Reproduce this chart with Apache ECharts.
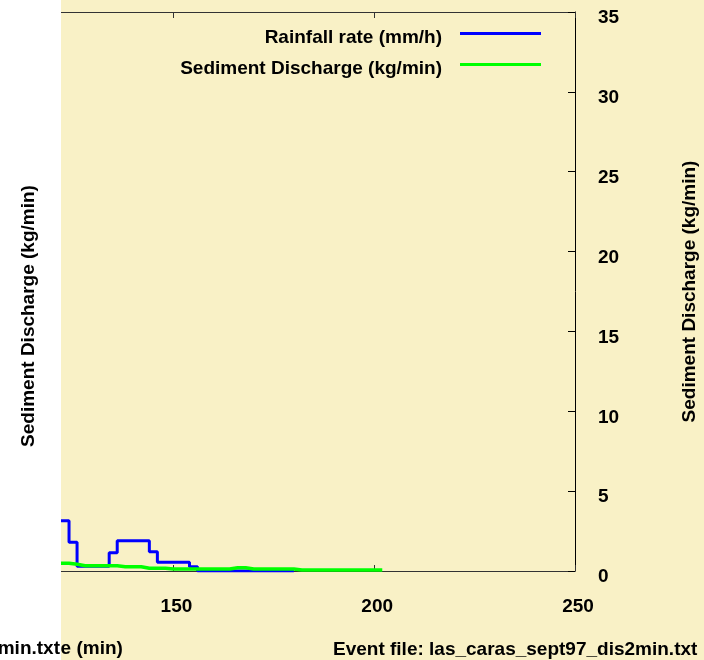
<!DOCTYPE html>
<html>
<head>
<meta charset="utf-8">
<script src="https://cdn.jsdelivr.net/npm/echarts@6/dist/echarts.min.js"></script>
<style>
html,body{margin:0;padding:0;background:#F9F1C6;}
#chart{width:704px;height:660px;}
</style>
</head>
<body>
<div id="chart"></div>
<script>
// ---- data (time in minutes) ----
const rainTime  = [120, 122, 124, 126, 128, 130, 132, 134, 136, 138, 140, 142, 144, 146, 148, 150, 152, 154, 156, 158, 160, 162, 164, 166, 168, 170, 172, 174, 176, 178, 180];
const rainRate  = [3.15, 3.15, 1.8, 0.3, 0.3, 0.3, 0.3, 1.15, 1.9, 1.9, 1.9, 1.9, 1.2, 0.55, 0.55, 0.55, 0.55, 0.27, 0, 0, 0, 0, 0, 0, 0, 0, 0, 0, 0, 0, 0];
const sedTime   = [120, 122, 124, 126, 128, 130, 132, 134, 136, 138, 140, 142, 144, 146, 148, 150, 152, 154, 156, 158, 160, 162, 164, 166, 168, 170, 172, 174, 176, 178, 180, 182, 184, 186, 188, 190, 192, 194, 196, 198, 200, 202];
const sedValue  = [0.48, 0.48, 0.42, 0.33, 0.33, 0.33, 0.33, 0.33, 0.27, 0.27, 0.27, 0.17, 0.17, 0.17, 0.12, 0.12, 0.12, 0.12, 0.12, 0.12, 0.12, 0.12, 0.2, 0.2, 0.12, 0.12, 0.12, 0.12, 0.12, 0.12, 0.06, 0.06, 0.06, 0.06, 0.06, 0.06, 0.06, 0.06, 0.06, 0.06, 0.06, 0.06];
const xRange = [122, 250];          // visible part of the time axis
const xTicks = [150, 200, 250];
const yTicks = [0, 5, 10, 15, 20, 25, 30, 35];
const seriesNames = ['Rainfall rate (mm/h)', 'Sediment Discharge (kg/min)'];
const yName = 'Sediment Discharge (kg/min)';
const xName = 'Time (min)';
const eventText = 'Event file: las_caras_sept97_dis2min.txt';
const sideText = 'min.txt';

const FONT = '"Liberation Sans", Arial, sans-serif';
const chart = echarts.init(document.getElementById('chart'), null, {renderer: 'canvas'});

const zip = (a, b) => a.map((v, i) => [v, b[i]]);
const boldTxt = {fontFamily: FONT, fontSize: 19, fontWeight: 'bold', color: '#000'};

chart.setOption({
  backgroundColor: '#F9F1C6',
  animation: false,
  textStyle: {fontFamily: FONT},
  title: {
    text: eventText,
    left: 333, top: 640, padding: 0,
    textStyle: boldTxt
  },
  legend: {
    orient: 'vertical',
    right: 163, top: 28,
    align: 'right',
    padding: 0,
    itemGap: 12,
    itemWidth: 81, itemHeight: 3,
    icon: 'rect',
    data: seriesNames,
    formatter: '{t|{name}}',
    textStyle: Object.assign({}, boldTxt, {
      padding: [0, 13, 0, 0],
      rich: {t: Object.assign({}, boldTxt, {padding: [8, 0, 0, 0]})}
    })
  },
  grid: {left: 61, right: 129, top: 12, bottom: 89, containLabel: false, outerBoundsMode: 'none'},
  xAxis: [{
    type: 'value', position: 'bottom',
    min: xRange[0], max: xRange[1],
    axisLine: {show: true, lineStyle: {color: '#333', width: 1}},
    axisTick: {show: true, inside: true, length: 6, customValues: xTicks, lineStyle: {color: '#333'}},
    axisLabel: {
      customValues: xTicks, margin: 22,
      formatter: '{t|{value}}',
      rich: {t: Object.assign({}, boldTxt, {padding: [4, 0, 0, 6]})}
    },
    splitLine: {show: false}
  }, {
    type: 'value', position: 'top',
    min: xRange[0], max: xRange[1],
    axisLine: {show: true, lineStyle: {color: '#333', width: 1}},
    axisTick: {show: true, inside: true, length: 6, customValues: xTicks, lineStyle: {color: '#333'}},
    axisLabel: {show: false},
    splitLine: {show: false}
  }],
  yAxis: [{
    type: 'value', position: 'right',
    min: yTicks[0], max: yTicks[yTicks.length - 1], interval: 5,
    name: yName, nameLocation: 'middle', nameGap: 105, nameRotate: 90,
    nameTextStyle: boldTxt,
    axisLine: {show: true, lineStyle: {color: '#000', width: 1}},
    axisTick: {show: true, inside: true, length: 7, lineStyle: {color: '#000'}},
    axisLabel: {
      margin: 23,
      formatter: '{t|{value}}',
      rich: {t: Object.assign({}, boldTxt, {padding: [12, 0, 0, 0]})}
    },
    splitLine: {show: false}
  }],
  series: [{
    name: seriesNames[0], type: 'line', step: 'end',
    data: zip(rainTime, rainRate),
    showSymbol: false, symbol: 'none',
    itemStyle: {color: '#0000FF'},
    lineStyle: {color: '#0000FF', width: 3}
  }, {
    name: seriesNames[1], type: 'line', step: 'end',
    data: zip(sedTime, sedValue),
    showSymbol: false, symbol: 'none',
    itemStyle: {color: '#00FF00'},
    lineStyle: {color: '#00FF00', width: 3.5}
  }],
  graphic: [{
    type: 'text', z: 50, silent: true,
    x: 75, y: 649,
    style: {text: xName, font: 'bold 19px ' + FONT, fill: '#000', align: 'center', verticalAlign: 'middle'}
  }, {
    type: 'rect', z: 100, silent: true,
    shape: {x: 0, y: 0, width: 61, height: 660},
    style: {fill: '#FFFFFF'}
  }, {
    type: 'text', z: 101, silent: true,
    x: 29, y: 316, rotation: Math.PI / 2,
    style: {text: yName, font: 'bold 19px ' + FONT, fill: '#000', align: 'center', verticalAlign: 'middle'}
  }, {
    type: 'text', z: 101, silent: true,
    x: 60, y: 649,
    style: {text: sideText, font: 'bold 19px ' + FONT, fill: '#000', align: 'right', verticalAlign: 'middle'}
  }]
});
</script>
</body>
</html>
